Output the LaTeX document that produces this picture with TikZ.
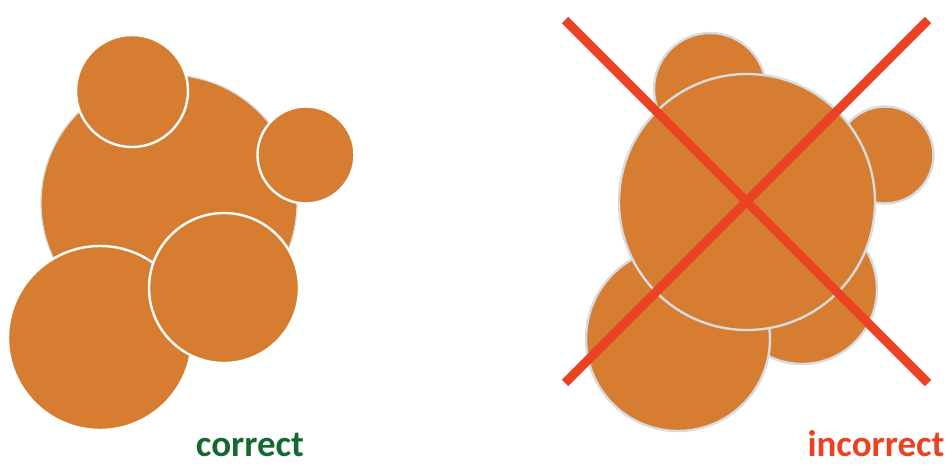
\documentclass[tikz,border=0pt]{standalone}
\usepackage{fontspec}
\setmainfont{Carlito}
\usepackage{tikz}
\usetikzlibrary{positioning}
\definecolor{myorange}{RGB}{214,125,50}
\definecolor{mycross}{RGB}{236,66,36}
\definecolor{mygreen}{RGB}{22,104,48}
\definecolor{myedge}{RGB}{214,220,224}
\tikzset{
  bubble/.style={circle, fill=myorange, draw=white, line width=2.4pt, inner sep=0pt},
  backbubble/.style={circle, fill=myorange, draw=myedge, line width=1.2pt, inner sep=0pt},
  greybubble/.style={circle, fill=myorange, draw=myedge, line width=2.4pt, inner sep=0pt},
  cross/.style={line width=9pt, color=mycross},
  verdict/.style={font=\fontsize{37}{39}\selectfont\bfseries, anchor=base, inner sep=0pt}
}
\begin{document}
\begin{tikzpicture}[x=1pt, y=-1pt]
  \useasboundingbox (0,0) rectangle (951,466);

  % correct: big one at the back
  \node[backbubble, minimum size=256pt] (lbig) at (169,203) {};
  \node[bubble, minimum size=184pt] (llow) at (100,338) {};
  \node[bubble, minimum size=150pt] (lmid) at (224,288) {};
  \node[bubble, minimum size=112pt] (ltop) at (132,91) {};
  \node[bubble, minimum size=97pt] (lright) at (306,155) {};
  \node[verdict, text=mygreen] (ok) at (250,456) {correct};

  % incorrect: big one in front
  \node[greybubble, minimum size=112pt] (rtop) at (710,89) {};
  \node[greybubble, minimum size=97pt] (rright) at (885,155) {};
  \node[greybubble, minimum size=150pt] (rmid) at (802,289) {};
  \node[greybubble, minimum size=184pt] (rlow) at (678,339) {};
  \node[greybubble, minimum size=256pt] (rbig) at (747,202) {};
  \node[verdict, text=mycross] (bad) at (876,456) {incorrect};

  % the cross
  \coordinate (xnw) at (565,20);
  \coordinate (xse) at (928,383);
  \coordinate (xsw) at (565,383);
  \coordinate (xne) at (928,20);
  \draw[cross] (xnw) -- (xse);
  \draw[cross] (xsw) -- (xne);
\end{tikzpicture}
\end{document}
